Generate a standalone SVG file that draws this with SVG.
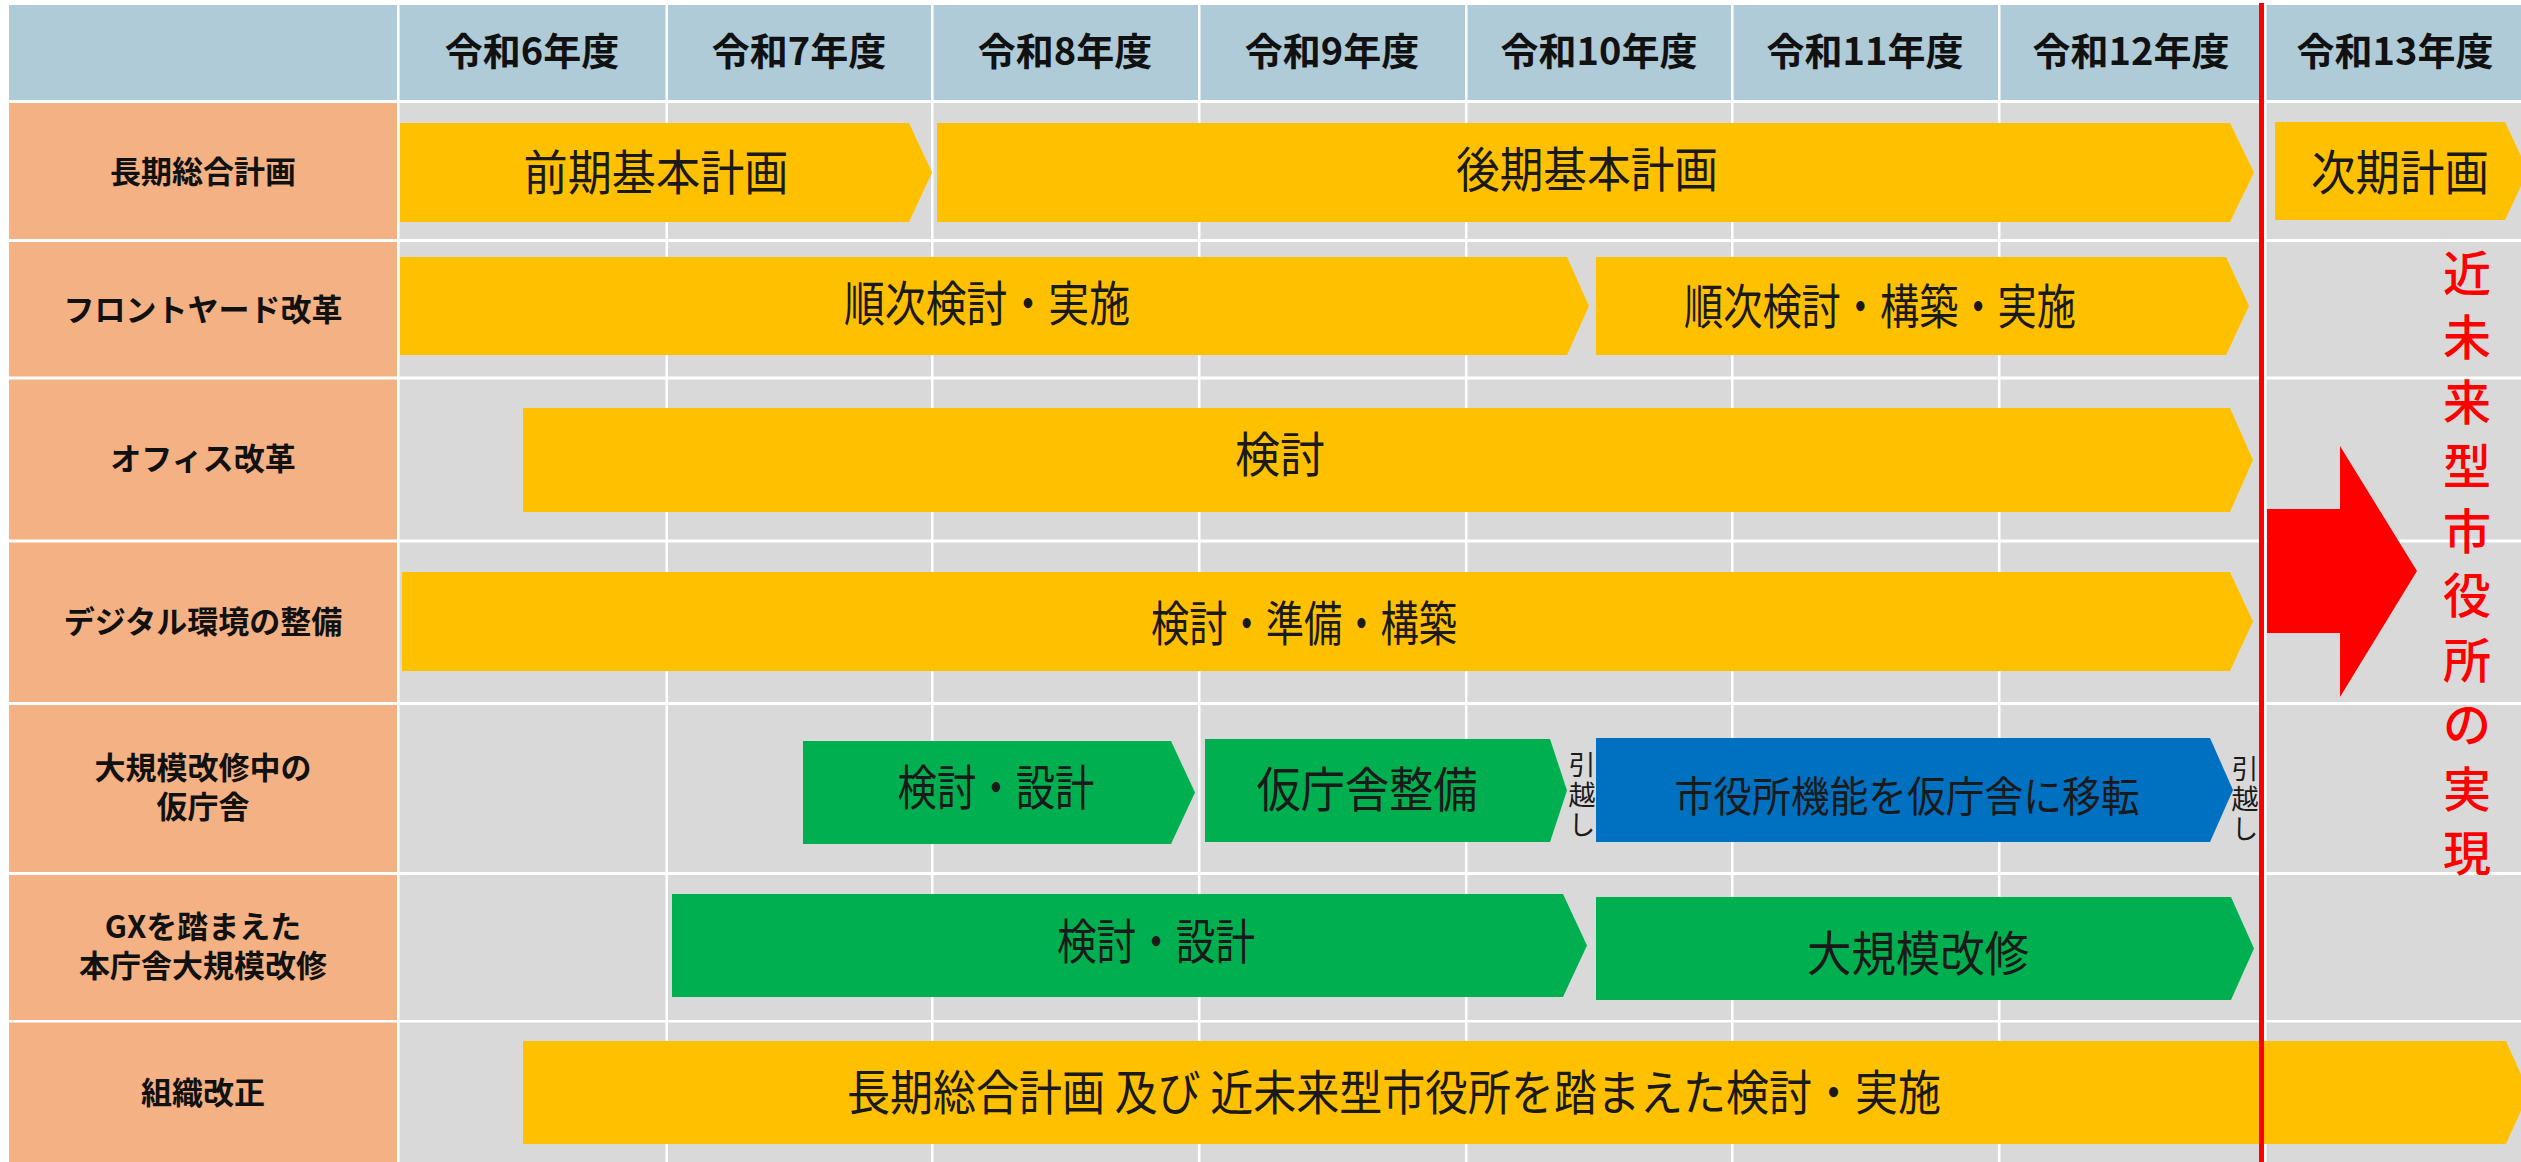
<svg xmlns="http://www.w3.org/2000/svg" width="2521" height="1162" viewBox="0 0 2521 1162">
<style>
.hdr{fill:#AFCBD8}
.lab{fill:#F4B183}
.cell{fill:#D9D9D9}
.wl{fill:#FFFFFF}
.yl{fill:#FFC000}
.gr{fill:#00B050}
.bl{fill:#0070C0}
.red{fill:#FF0000}
text{font-family:"Noto Sans CJK JP","Noto Sans",sans-serif}
.ht{font-size:38px;font-weight:700;fill:#111;text-anchor:middle}
.lt{font-size:31px;font-weight:700;fill:#111;text-anchor:middle}
.bt{font-size:48px;font-weight:400;fill:#1a1a1a;text-anchor:middle}
.st{font-size:42px;font-weight:400;fill:#1a1a1a;text-anchor:middle}
.vt{font-size:27px;font-weight:400;fill:#1a1a1a;writing-mode:vertical-rl;letter-spacing:3px}
.rt{font-size:48px;font-weight:500;fill:#FF0000;text-anchor:middle}
</style>
<rect width="2521" height="1162" fill="#FFFFFF"/>
<g id="grid">
<rect class="hdr" x="9" y="5" width="2512" height="95"/>
<rect class="lab" x="9" y="100" width="389" height="1062"/>
<rect class="cell" x="398" y="100" width="2123" height="1062"/>
<rect class="wl" x="9" y="100" width="2512" height="3"/>
<rect class="wl" x="9" y="239" width="2512" height="3"/>
<rect class="wl" x="9" y="376.5" width="2512" height="3"/>
<rect class="wl" x="9" y="539.5" width="2512" height="3"/>
<rect class="wl" x="9" y="702" width="2512" height="3"/>
<rect class="wl" x="9" y="872" width="2512" height="3"/>
<rect class="wl" x="9" y="1020" width="2512" height="2.5"/>
<rect class="wl" x="397" y="5" width="2.5" height="1157"/>
<rect class="wl" x="665.5" y="5" width="2.5" height="1157"/>
<rect class="wl" x="931" y="5" width="2.5" height="1157"/>
<rect class="wl" x="1198" y="5" width="2.5" height="1157"/>
<rect class="wl" x="1465" y="5" width="2.5" height="1157"/>
<rect class="wl" x="1731" y="5" width="2.5" height="1157"/>
<rect class="wl" x="1998" y="5" width="2.5" height="1157"/>
<rect class="wl" x="2264" y="5" width="2.5" height="1157"/>
</g>
<g id="header">
<text class="ht" x="532" y="65">令和6年度</text>
<text class="ht" x="799" y="65">令和7年度</text>
<text class="ht" x="1065" y="65">令和8年度</text>
<text class="ht" x="1332" y="65">令和9年度</text>
<text class="ht" x="1599" y="65">令和10年度</text>
<text class="ht" x="1865" y="65">令和11年度</text>
<text class="ht" x="2131" y="65">令和12年度</text>
<text class="ht" x="2395" y="65">令和13年度</text>
</g>
<g id="row-labels">
<text class="lt" x="203" y="182.5">長期総合計画</text>
<text class="lt" x="203" y="321">フロントヤード改革</text>
<text class="lt" x="203" y="470">オフィス改革</text>
<text class="lt" x="203" y="633">デジタル環境の整備</text>
<text class="lt"><tspan x="203" y="779">大規模改修中の</tspan><tspan x="203" y="818">仮庁舎</tspan></text>
<text class="lt"><tspan x="203" y="938">GXを踏まえた</tspan><tspan x="203" y="977">本庁舎大規模改修</tspan></text>
<text class="lt" x="203" y="1104">組織改正</text>
</g>
<g id="bar-zenki">
<polygon class="yl" points="400,123 909,123 932,172.5 909,222 400,222"/>
<text class="bt" x="656" y="190" textLength="265" lengthAdjust="spacingAndGlyphs">前期基本計画</text>
</g>
<g id="bar-kouki">
<polygon class="yl" points="937,123 2230,123 2254,172.5 2230,222 937,222"/>
<text class="bt" x="1587" y="187" textLength="262" lengthAdjust="spacingAndGlyphs">後期基本計画</text>
</g>
<g id="bar-jiki">
<polygon class="yl" points="2275,122 2505,122 2528,171 2505,220 2275,220"/>
<text class="bt" x="2400" y="190" textLength="178" lengthAdjust="spacingAndGlyphs">次期計画</text>
</g>
<g id="bar-front1">
<polygon class="yl" points="400,257 1567,257 1589,306 1567,355 400,355"/>
<text class="bt" x="987" y="320.5" textLength="286" lengthAdjust="spacingAndGlyphs">順次検討・実施</text>
</g>
<g id="bar-front2">
<polygon class="yl" points="1596,257 2226,257 2249,306 2226,355 1596,355"/>
<text class="bt" x="1880" y="323.5" textLength="392" lengthAdjust="spacingAndGlyphs">順次検討・構築・実施</text>
</g>
<g id="bar-office">
<polygon class="yl" points="523,408 2230,408 2253,460 2230,512 523,512"/>
<text class="bt" x="1280" y="472" textLength="90" lengthAdjust="spacingAndGlyphs">検討</text>
</g>
<g id="bar-digital">
<polygon class="yl" points="402,572 2230,572 2253,621.5 2230,671 402,671"/>
<text class="bt" x="1304" y="641" textLength="306" lengthAdjust="spacingAndGlyphs">検討・準備・構築</text>
</g>
<g id="bar-kari-design">
<polygon class="gr" points="803,741 1171,741 1195,792.5 1171,844 803,844"/>
<text class="bt" x="996" y="805" textLength="197" lengthAdjust="spacingAndGlyphs">検討・設計</text>
</g>
<g id="bar-kari-build">
<polygon class="gr" points="1205,739 1550,739 1567,790.5 1550,842 1205,842"/>
<text class="bt" x="1367" y="806.5" textLength="221" lengthAdjust="spacingAndGlyphs">仮庁舎整備</text>
</g>
<g id="move1">
<text class="vt" x="1582" y="751">引越し</text>
</g>
<g id="bar-relocate">
<polygon class="bl" points="1596,738 2210,738 2233,790 2210,842 1596,842"/>
<text class="st" x="1907" y="812" textLength="465" lengthAdjust="spacingAndGlyphs">市役所機能を仮庁舎に移転</text>
</g>
<g id="move2">
<text class="vt" x="2245" y="755">引越し</text>
</g>
<g id="bar-gx-design">
<polygon class="gr" points="672,894 1563,894 1587,945.5 1563,997 672,997"/>
<text class="bt" x="1156" y="959" textLength="198" lengthAdjust="spacingAndGlyphs">検討・設計</text>
</g>
<g id="bar-gx-renovate">
<polygon class="gr" points="1596,897 2231,897 2254,948.5 2231,1000 1596,1000"/>
<text class="bt" x="1918" y="971" textLength="222" lengthAdjust="spacingAndGlyphs">大規模改修</text>
</g>
<g id="bar-org">
<polygon class="yl" points="523,1041 2506,1041 2529,1092.5 2506,1144 523,1144"/>
<text class="bt" x="1394" y="1110" textLength="1094" lengthAdjust="spacingAndGlyphs">長期総合計画 及び 近未来型市役所を踏まえた検討・実施</text>
</g>
<g id="target-line">
<rect class="red" x="2259" y="3" width="5" height="1159"/>
</g>
<g id="connectors">
<polygon id="big-arrow" class="red" points="2267,509 2340,509 2340,446 2417,571 2340,697 2340,633 2267,633"/>
</g>
<g id="goal-text">
<text class="rt"><tspan x="2467" y="290.5">近</tspan><tspan x="2467" y="355">未</tspan><tspan x="2467" y="419.5">来</tspan><tspan x="2467" y="484">型</tspan><tspan x="2467" y="548.5">市</tspan><tspan x="2467" y="613">役</tspan><tspan x="2467" y="677.5">所</tspan><tspan x="2467" y="742">の</tspan><tspan x="2467" y="806.5">実</tspan><tspan x="2467" y="871">現</tspan></text>
</g>
</svg>
